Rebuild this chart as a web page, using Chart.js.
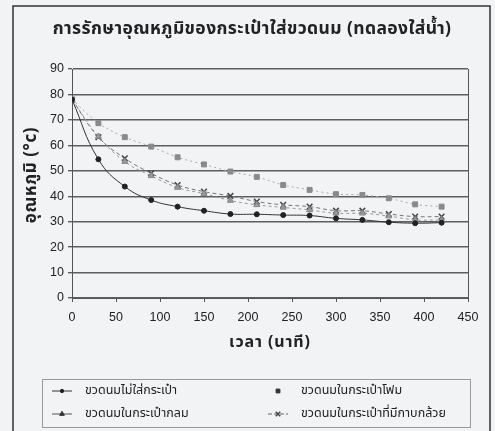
<!DOCTYPE html>
<html>
<head>
<meta charset="utf-8">
<script src="https://cdn.jsdelivr.net/npm/chart.js@4/dist/chart.umd.min.js"></script>
<style>
  html, body { margin: 0; padding: 0; background: #f2f3f5; }
  #wrap { position: relative; width: 495px; height: 431px; }
</style>
</head>
<body>
<div id="wrap"><canvas id="c" width="495" height="431"></canvas></div>
<script>
// Time in minutes
const minutes = [0, 30, 60, 90, 120, 150, 180, 210, 240, 270, 300, 330, 360, 390, 420];
// Water temperature (°C) in the bottle for each way of keeping it
const noBag    = [78, 54.5, 43.8, 38.5, 35.9, 34.3, 33.0, 32.9, 32.6, 32.4, 31.3, 30.7, 29.8, 29.4, 29.6];
const foamBag  = [78, 68.7, 63.2, 59.5, 55.3, 52.5, 49.7, 47.6, 44.4, 42.5, 40.8, 40.5, 39.2, 36.8, 35.9];
const roundBag = [78, 63.5, 53.6, 48.0, 43.4, 41.0, 38.3, 36.6, 35.6, 34.6, 33.3, 33.3, 32.2, 30.7, 30.7];
const leafBag  = [78, 63.2, 54.9, 49.0, 44.4, 41.8, 40.1, 37.9, 36.6, 35.9, 34.3, 34.3, 33.0, 32.0, 32.0];

const seriesNames = ['ขวดนมไม่ใส่กระเป๋า', 'ขวดนมในกระเป๋าโฟม', 'ขวดนมในกระเป๋ากลม', 'ขวดนมในกระเป๋าที่มีกาบกล้วย'];
const chartTitle = 'การรักษาอุณหภูมิของกระเป๋าใส่ขวดนม (ทดลองใส่น้ำ)';
const xTitle = 'เวลา (นาที)';
const yTitle = 'อุณหภูมิ (°c)';

const THAI = "Tahoma, 'Noto Sans Thai', 'Noto Sans', 'DejaVu Sans', sans-serif";
const NUM = "'Liberation Sans', Arial, sans-serif";

const pts = (ys) => minutes.map((m, i) => ({ x: m, y: ys[i] }));

// Frame, titles and the two-column legend box
const decor = {
  id: 'decor',
  beforeDraw(chart) {
    const ctx = chart.ctx;
    ctx.save();
    ctx.fillStyle = '#f2f3f5';
    ctx.fillRect(0, 0, chart.width, chart.height);
    ctx.restore();
  },
  afterDraw(chart) {
    const ctx = chart.ctx;
    const area = chart.chartArea;
    ctx.save();
    // outer frame
    ctx.strokeStyle = '#333';
    ctx.lineWidth = 1.5;
    ctx.strokeRect(13, 6, 477, 430);

    // chart title
    ctx.fillStyle = '#222';
    ctx.textAlign = 'center';
    ctx.textBaseline = 'middle';
    ctx.font = 'bold 17.5px ' + THAI;
    ctx.letterSpacing = '0.4px';
    ctx.fillText(chartTitle, 252, 30);

    // x axis title
    ctx.font = 'bold 16px ' + THAI;
    ctx.letterSpacing = '0.9px';
    ctx.fillText(xTitle, (area.left + area.right) / 2, 344);

    // y axis title
    ctx.save();
    ctx.translate(33, 175);
    ctx.rotate(-Math.PI / 2);
    ctx.font = 'bold 17px ' + THAI;
    ctx.letterSpacing = '0.6px';
    ctx.fillText(yTitle, 0, 0);
    ctx.restore();
    ctx.letterSpacing = '0px';

    // legend box
    ctx.strokeStyle = '#999';
    ctx.lineWidth = 1;
    ctx.strokeRect(42.5, 379.5, 428, 48);
    const slots = [
      { ds: 0, x: 52, y: 391 },
      { ds: 1, x: 268, y: 391 },
      { ds: 2, x: 52, y: 414 },
      { ds: 3, x: 268, y: 414 }
    ];
    ctx.font = '12.5px ' + THAI;
    ctx.textAlign = 'left';
    slots.forEach(s => {
      const d = chart.data.datasets[s.ds];
      const cx = s.x + 10;
      if (d.legendLine) {
        ctx.beginPath();
        ctx.strokeStyle = d.legendColor;
        ctx.lineWidth = 1;
        ctx.setLineDash(d.legendDash || []);
        ctx.moveTo(s.x, s.y);
        ctx.lineTo(s.x + 20, s.y);
        ctx.stroke();
        ctx.setLineDash([]);
      }
      ctx.fillStyle = d.legendPoint;
      ctx.strokeStyle = d.legendPoint;
      ctx.lineWidth = d.pointBorderWidth || 1;
      Chart.helpers.drawPoint(ctx, {
        pointStyle: d.pointStyle,
        radius: d.pointRadius - 0.8,
        borderWidth: d.pointBorderWidth || 1
      }, cx, s.y);
      ctx.fillStyle = '#222';
      ctx.fillText(d.label, s.x + 33, s.y);
    });
    ctx.restore();
  }
};

const ds = [
  {
    label: seriesNames[0], data: pts(noBag),
    borderColor: '#333', borderWidth: 1, tension: 0.45,
    pointStyle: 'circle', pointRadius: 2.5, pointBackgroundColor: '#222', pointBorderColor: '#222',
    legendLine: true, legendColor: '#333', legendPoint: '#222'
  },
  {
    label: seriesNames[1], data: pts(foamBag),
    borderColor: '#aaa', borderWidth: 1, borderDash: [2, 3], tension: 0.3,
    pointStyle: 'rect', pointRadius: 3.5, pointBackgroundColor: '#8a8a8a', pointBorderColor: '#8a8a8a',
    legendLine: false, legendPoint: '#333'
  },
  {
    label: seriesNames[2], data: pts(roundBag),
    borderColor: '#999', borderWidth: 1, borderDash: [3, 3], tension: 0.4,
    pointStyle: 'triangle', pointRadius: 3.5, pointBackgroundColor: '#999', pointBorderColor: '#888',
    legendLine: true, legendColor: '#555', legendPoint: '#333'
  },
  {
    label: seriesNames[3], data: pts(leafBag),
    borderColor: '#777', borderWidth: 1, borderDash: [4, 3], tension: 0.4,
    pointStyle: 'crossRot', pointRadius: 4, pointBorderWidth: 1.5, pointBackgroundColor: '#444', pointBorderColor: '#444',
    legendLine: true, legendColor: '#666', legendDash: [4, 2], legendPoint: '#444'
  }
];

new Chart(document.getElementById('c'), {
  type: 'line',
  data: { datasets: ds },
  options: {
    responsive: false,
    animation: false,
    devicePixelRatio: 1,
    layout: { padding: { left: 0, right: 27, top: 69, bottom: 108 } },
    plugins: { legend: { display: false }, title: { display: false }, tooltip: { enabled: false } },
    scales: {
      x: {
        type: 'linear', min: 0, max: 450,
        ticks: { stepSize: 50, color: '#222', font: { family: NUM, size: 12.5 }, padding: 8, maxRotation: 0 },
        grid: { drawOnChartArea: false, drawTicks: true, tickLength: 4, color: '#555' },
        border: { color: '#555', width: 1 },
        afterFit: s => { s.height = 25; }
      },
      y: {
        min: 0, max: 90,
        ticks: { stepSize: 10, color: '#222', font: { family: NUM, size: 12.5 }, padding: 4 },
        grid: { color: '#5e5e5e', lineWidth: 1.4, tickLength: 4 },
        border: { color: '#555', width: 1 },
        afterFit: s => { s.width = 72; }
      }
    }
  },
  plugins: [decor, {
    id: 'rightEdge',
    afterDatasetsDraw(chart) {
      const a = chart.chartArea, ctx = chart.ctx;
      ctx.save();
      ctx.strokeStyle = '#555';
      ctx.lineWidth = 1;
      ctx.beginPath();
      ctx.moveTo(Math.round(a.right) + 0.5, a.top);
      ctx.lineTo(Math.round(a.right) + 0.5, a.bottom);
      ctx.stroke();
      ctx.restore();
    }
  }]
});
</script>
</body>
</html>
